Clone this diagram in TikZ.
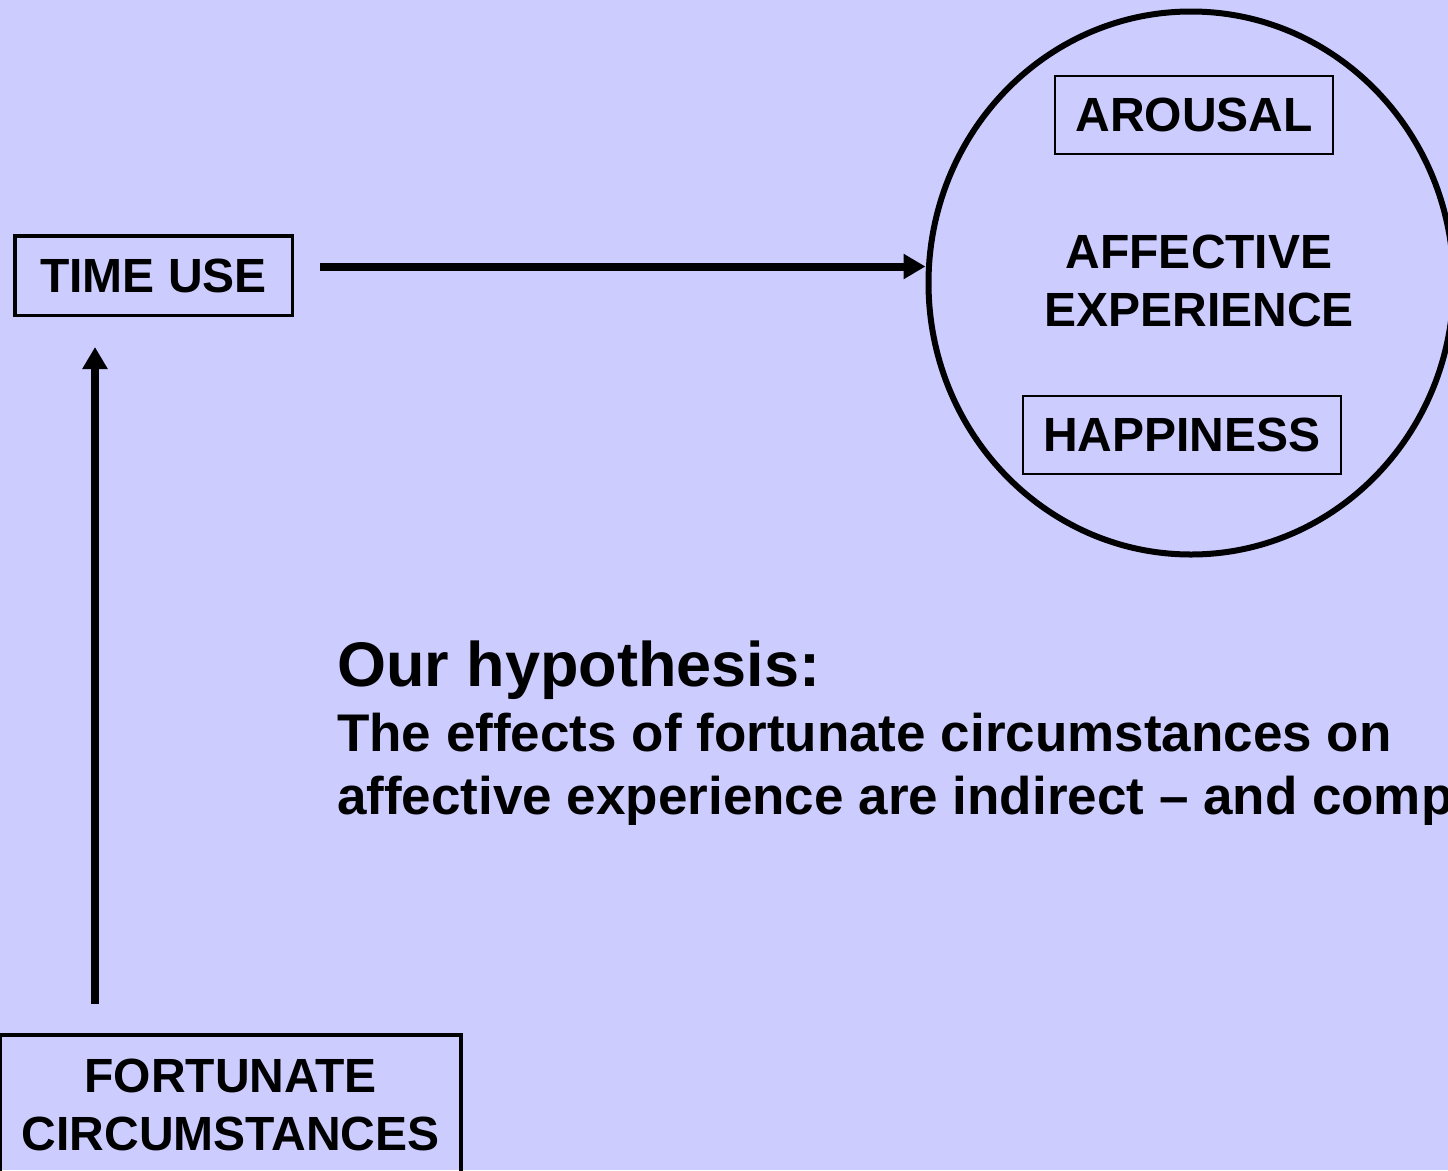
\documentclass[tikz,border=0pt]{standalone}
\usepackage{fontspec}
\setmainfont{Liberation Sans}
\usetikzlibrary{arrows.meta,positioning,shapes.geometric}
\definecolor{slide}{RGB}{204,204,255}
\tikzstyle{bigbox}=[rectangle,draw,line width=3.5pt,inner sep=0pt]
\tikzstyle{smallbox}=[rectangle,draw,line width=2pt,inner sep=0pt]
\tikzstyle{ring}=[ellipse,draw,line width=6pt,inner sep=0pt,
minimum width=525pt,minimum height=543pt]
\tikzstyle{caps}=[font=\fontsize{48}{58}\selectfont\bfseries]
\tikzstyle{flow}=[line width=8pt,-{Triangle[length=22pt,width=24pt]}]

\begin{document}
\begin{tikzpicture}[x=1pt,y=-1pt]
            \fill[slide] (0,0) rectangle (1448,1170);
            \useasboundingbox (0,0) rectangle (1448,1170);

            % LEFT COLUMN

            \node[bigbox,caps,minimum width=277.5pt,minimum height=79.5pt] (timeuse) at (153.5,275.5) {TIME USE};
            \node[bigbox,caps,align=center,text depth=10.5pt,minimum width=460.5pt,minimum height=149pt] (fortune) at (230.75,1109.5) {FORTUNATE\\CIRCUMSTANCES};
            \coordinate (stem) at (95,0);

            % AFFECT PART

            \node[ring] (affect) at (1191,283) {};
            \node[caps,align=center] (affecttxt) at (1199,281) {AFFECTIVE\\EXPERIENCE};
            \node[smallbox,caps,minimum width=278pt,minimum height=78pt] (arousal) at (1194,115) {AROUSAL};
            \node[smallbox,caps,minimum width=318pt,minimum height=78pt] (happy) at (1182,435) {HAPPINESS};

            % HYPOTHESIS

            \node[anchor=base west,inner sep=0pt,font=\fontsize{63}{70}\selectfont\bfseries] (hypo) at (337,686) {Our hypothesis:};
            \node[anchor=base west,inner sep=0pt,font=\fontsize{53}{63}\selectfont\bfseries] (claima) at ([yshift=-65pt]hypo.base west) {The effects of fortunate circumstances on};
            \node[anchor=base west,inner sep=0pt,font=\fontsize{53}{63}\selectfont\bfseries] (claimb) at ([yshift=-63pt]claima.base west) {affective experience are indirect – and comp};

            % Connections

            \draw[flow,shorten <=29.75pt,shorten >=30pt] (fortune.north -| stem) -- (timeuse.south -| stem);
            \draw[flow] ([xshift=26pt,yshift=9pt]timeuse.east) -- ([yshift=16.5pt]affect.west);

\end{tikzpicture}
\end{document}
